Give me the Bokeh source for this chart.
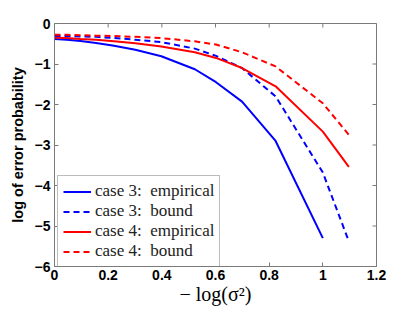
import math
from bokeh.plotting import figure
from bokeh.models import LinearAxis, Range1d, Legend, LegendItem, FixedTicker
from bokeh.embed import file_html
from bokeh.resources import INLINE

# -log10(sigma^2) sample points
x_vals = [0.0, 0.046, 0.097, 0.155, 0.222, 0.301, 0.398, 0.523, 0.602, 0.699, 0.824, 1.0, 1.097]

case3_empirical = [-0.38, -0.40, -0.43, -0.48, -0.55, -0.65, -0.81, -1.13, -1.45, -1.93, -2.90, -5.30]
case3_bound = [-0.31, -0.31, -0.32, -0.33, -0.36, -0.40, -0.46, -0.62, -0.80, -1.10, -1.80, -3.68, -5.38]
case4_empirical = [-0.35, -0.36, -0.38, -0.40, -0.44, -0.49, -0.57, -0.71, -0.85, -1.10, -1.55, -2.67, -3.54]
case4_bound = [-0.28, -0.28, -0.29, -0.30, -0.31, -0.33, -0.36, -0.44, -0.52, -0.71, -1.06, -1.97, -2.75]

x_ticks = [0, 0.2, 0.4, 0.6, 0.8, 1.0, 1.2]
x_tick_labels = ["0", "0.2", "0.4", "0.6", "0.8", "1", "1.2"]
y_ticks = [0, -1, -2, -3, -4, -5, -6]
y_tick_labels = ["0", "\u22121", "\u22122", "\u22123", "\u22124", "\u22125", "\u22126"]

legend_labels = ["case 3:  empirical", "case 3:  bound", "case 4:  empirical", "case 4:  bound"]

GRAY = "#7a7a7a"
X_MIN, X_MAX = 0, 1.2
Y_MIN, Y_MAX = -6, 0

p = figure(frame_width=322, frame_height=243, output_backend="svg", toolbar_location=None,
           x_range=Range1d(X_MIN, X_MAX), y_range=Range1d(Y_MIN, Y_MAX),
           min_border_left=54, min_border_top=23, min_border_right=31, min_border_bottom=38,
           x_axis_location=None, y_axis_location=None)
p.grid.visible = False
p.outline_line_color = GRAY
p.background_fill_color = "white"
p.border_fill_color = "white"

def style_axis(ax, labels):
    ax.axis_line_color = GRAY
    ax.major_tick_line_color = GRAY
    ax.major_tick_in = 4
    ax.major_tick_out = 0
    ax.minor_tick_line_color = None
    ax.major_label_text_font = "Liberation Sans"
    ax.major_label_text_font_style = "bold"
    ax.major_label_text_font_size = "14px"
    ax.major_label_text_color = "black"
    ax.major_label_overrides = labels

xb = LinearAxis(ticker=FixedTicker(ticks=x_ticks))
style_axis(xb, {t: l for t, l in zip(x_ticks, x_tick_labels)})
xb.major_label_standoff = 3
xb.axis_label = "\u2212 log(\u03c3\u00b2)"
xb.axis_label_text_font = "Liberation Serif"
xb.axis_label_text_font_style = "normal"
xb.axis_label_text_font_size = "20px"
xb.axis_label_text_color = "black"
xb.axis_label_standoff = 0
p.add_layout(xb, "below")

yl = LinearAxis(ticker=FixedTicker(ticks=y_ticks))
style_axis(yl, {t: l for t, l in zip(y_ticks, y_tick_labels)})
yl.major_label_standoff = 4
yl.axis_label = "log of error probability"
yl.axis_label_text_font = "Liberation Sans"
yl.axis_label_text_font_style = "bold"
yl.axis_label_text_font_size = "14.5px"
yl.axis_label_text_color = "black"
yl.axis_label_standoff = 6
p.add_layout(yl, "left")

# mirrored inward ticks on the top and right edges of the box
p.scatter(x=x_ticks, y=[Y_MAX] * len(x_ticks), marker="dash", angle=math.pi / 2, size=8,
          line_color=GRAY, line_width=1)
p.scatter(x=[X_MAX] * len(y_ticks), y=y_ticks, marker="dash", size=8,
          line_color=GRAY, line_width=1)

r1 = p.line(x_vals[:len(case3_empirical)], case3_empirical, line_color="#0000ff", line_width=2)
r2 = p.line(x_vals, case3_bound, line_color="#0000ff", line_width=2, line_dash="6 4")
r3 = p.line(x_vals, case4_empirical, line_color="#ff0000", line_width=2)
r4 = p.line(x_vals, case4_bound, line_color="#ff0000", line_width=2, line_dash="6 4")

legend = Legend(items=[LegendItem(label=l, renderers=[r]) for l, r in zip(legend_labels, [r1, r2, r3, r4])],
                location=(3, -1))
legend.label_text_font = "Liberation Serif"
legend.label_text_font_size = "17px"
legend.label_text_color = "#222222"
legend.label_height = 15
legend.glyph_height = 15
legend.glyph_width = 28
legend.label_standoff = 4
legend.spacing = 0
legend.padding = 5
legend.margin = 0
legend.border_line_color = GRAY
legend.border_line_width = 1
legend.background_fill_color = "white"
legend.background_fill_alpha = 1.0
p.add_layout(legend, "center")

open("out.html", "w").write(file_html(p, INLINE))
